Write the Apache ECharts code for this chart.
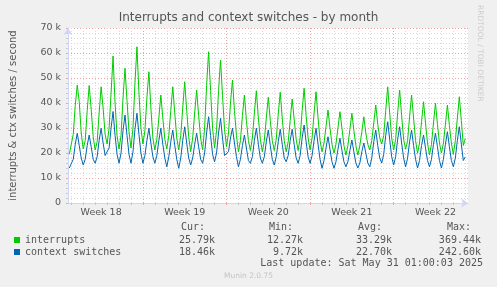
<!DOCTYPE html>
<html>
<head>
<meta charset="utf-8">
<script src="https://cdn.jsdelivr.net/npm/echarts@6/dist/echarts.min.js"></script>
<style>
html, body { margin: 0; padding: 0; background: #f0f0f0; }
#chart { width: 497px; height: 287px; }
</style>
</head>
<body>
<div id="chart"></div>
<script>
// hours counted from Monday 00:00 of week 18, one sample every 4 hours
const startHour = 20;
const stepHours = 4;
const xMin = 17.4;
const xMax = 821.4;

const weekStarts = [168, 336, 504, 672];
const weekMids = [84, 252, 420, 588, 756];
const weekLabels = ['Week 18', 'Week 19', 'Week 20', 'Week 21', 'Week 22'];

// values in thousands per second, one day per line (00h 04h 08h 12h 16h 20h)
const interrupts = [
    19.5,
    20.0, 27.5, 39.0, 47.2, 40.5, 28.0,
    21.6, 25.0, 37.0, 47.0, 37.5, 26.5,
    21.2, 24.5, 36.0, 46.5, 38.0, 27.5,
    23.6, 30.0, 44.0, 58.8, 40.0, 27.0,
    21.6, 27.0, 42.0, 53.9, 41.0, 28.5,
    22.0, 30.0, 48.0, 62.5, 44.0, 30.0,
    23.6, 29.0, 42.0, 52.5, 38.0, 26.0,
    21.2, 25.5, 34.0, 43.2, 34.0, 25.5,
    21.6, 27.0, 37.0, 46.5, 36.0, 26.0,
    21.2, 27.0, 38.0, 48.5, 37.0, 26.5,
    20.5, 26.0, 36.0, 45.2, 35.0, 26.0,
    21.2, 30.0, 47.0, 60.5, 45.0, 30.0,
    22.0, 29.0, 45.0, 57.2, 43.0, 29.5,
    22.5, 28.0, 40.0, 49.2, 37.0, 27.0,
    20.5, 25.0, 35.0, 43.2, 33.0, 25.0,
    21.0, 26.0, 36.0, 44.9, 34.0, 25.5,
    20.5, 25.0, 34.0, 42.3, 33.0, 25.0,
    21.0, 25.5, 35.5, 44.3, 34.0, 25.0,
    20.5, 24.5, 33.0, 41.6, 33.5, 25.5,
    21.0, 26.0, 37.0, 45.9, 35.0, 26.0,
    21.2, 26.0, 36.0, 44.5, 34.0, 25.0,
    20.5, 24.0, 30.5, 37.2, 30.0, 23.5,
    19.9, 23.5, 30.0, 36.5, 30.0, 23.0,
    19.2, 23.0, 29.5, 35.9, 29.0, 23.0,
    19.2, 23.0, 28.5, 34.5, 28.0, 23.5,
    21.2, 25.0, 32.0, 39.2, 31.5, 26.0,
    23.6, 27.0, 37.0, 46.5, 36.0, 26.0,
    21.2, 25.5, 36.0, 45.2, 35.0, 25.5,
    21.5, 25.0, 34.5, 43.2, 34.0, 25.0,
    19.9, 24.0, 32.5, 40.5, 32.0, 24.0,
    19.2, 23.5, 32.0, 39.9, 31.5, 24.0,
    20.0, 24.0, 31.5, 39.2, 31.0, 24.0,
    19.5, 25.0, 34.0, 42.5, 33.0, 23.0,
    25.8
];

const ctxSwitches = [
    14.0,
    14.0, 17.5, 23.5, 27.9, 23.0, 18.0,
    15.2, 17.5, 23.0, 27.2, 22.5, 17.5,
    15.9, 18.5, 25.0, 29.9, 24.0, 19.0,
    18.5, 22.0, 30.0, 36.6, 27.0, 19.5,
    15.9, 20.0, 29.0, 35.2, 27.0, 19.5,
    15.9, 20.5, 29.5, 35.9, 27.5, 20.0,
    15.9, 19.0, 25.0, 29.9, 24.0, 18.5,
    15.9, 19.0, 25.0, 29.9, 23.5, 18.0,
    14.5, 18.5, 24.5, 29.2, 23.0, 17.5,
    13.9, 18.0, 25.0, 30.5, 24.0, 18.0,
    15.2, 18.0, 23.5, 27.9, 22.5, 17.5,
    15.9, 20.0, 28.0, 34.5, 27.0, 19.5,
    16.5, 20.0, 28.0, 33.9, 26.0, 19.0,
    18.5, 20.5, 26.0, 29.9, 24.0, 18.5,
    14.5, 17.5, 23.0, 27.2, 22.0, 17.0,
    15.9, 18.5, 25.0, 29.9, 23.5, 18.0,
    15.9, 18.5, 24.5, 29.2, 23.0, 17.5,
    15.2, 18.5, 24.5, 29.5, 23.5, 18.0,
    16.5, 19.0, 25.0, 29.5, 23.5, 18.0,
    15.9, 19.0, 26.0, 31.2, 24.5, 18.5,
    15.9, 19.0, 25.0, 29.9, 23.5, 17.5,
    13.9, 17.0, 22.0, 26.5, 21.5, 16.5,
    13.9, 16.5, 21.5, 25.9, 21.0, 16.5,
    14.5, 16.5, 21.0, 25.2, 20.5, 16.0,
    14.0, 16.0, 20.5, 24.0, 20.0, 16.0,
    14.5, 18.0, 24.5, 29.2, 23.0, 18.0,
    16.0, 19.5, 27.0, 32.5, 25.5, 18.5,
    15.2, 18.5, 25.5, 30.5, 24.0, 18.0,
    14.5, 18.0, 24.5, 29.2, 23.0, 17.5,
    14.0, 17.0, 23.0, 27.2, 22.0, 17.0,
    14.5, 17.5, 23.5, 27.9, 22.5, 17.0,
    14.0, 17.5, 23.5, 28.5, 22.5, 17.0,
    14.5, 18.0, 25.0, 30.5, 23.5, 17.0,
    18.46
];

const seriesNames = ['interrupts', 'context switches'];
const seriesColors = ['#00cc00', '#0066b3'];
const curVals = ['25.79k', '18.46k'];
const minVals = ['12.27k', '9.72k'];
const avgVals = ['33.29k', '22.70k'];
const maxVals = ['369.44k', '242.60k'];
const lastUpdate = 'Last update: Sat May 31 01:00:03 2025';

const dayLines = [];
for (let h = 24; h < xMax; h += 24) dayLines.push(h);

function toPairs(values) {
    return values.map((v, i) => [startHour + i * stepHours, v]);
}

const chart = echarts.init(document.getElementById('chart'), null, { renderer: 'canvas' });

const fontColor = '#555';
const gridGrey = '#d9d9d9';
const gridRed = '#eba3a3';
const axisColor = '#cfd6f8';

const option = {
    backgroundColor: '#f0f0f0',
    animation: false,
    title: {
        text: 'Interrupts and context switches - by month',
        left: 'center',
        top: 12,
        padding: 0,
        textStyle: {
            fontFamily: 'DejaVu Sans',
            fontSize: 12,
            fontWeight: 'normal',
            color: fontColor
        }
    },
    grid: {
        left: 66,
        top: 28,
        width: 402,
        height: 175,
        show: true,
        backgroundColor: '#ffffff',
        borderWidth: 0
    },
    xAxis: [
        {
            type: 'value',
            min: xMin,
            max: xMax,
            axisLine: {
                show: true,
                lineStyle: { color: axisColor },
                symbol: ['none', 'arrow'],
                symbolSize: [7, 7]
            },
            axisTick: {
                show: true,
                length: 2,
                customValues: dayLines,
                lineStyle: { color: '#c8c8c8' }
            },
            axisLabel: {
                customValues: weekMids,
                formatter: (v) => weekLabels[weekMids.indexOf(v)],
                color: fontColor,
                fontFamily: 'DejaVu Sans',
                fontSize: 9.5,
                margin: 5
            },
            splitLine: {
                show: true,
                lineStyle: { color: gridGrey, type: [1, 2] }
            }
        },
        {
            type: 'value',
            min: xMin,
            max: xMax,
            position: 'bottom',
            axisLine: { show: false },
            axisTick: {
                show: true,
                length: 2,
                customValues: weekStarts,
                lineStyle: { color: gridRed }
            },
            axisLabel: { show: false },
            splitLine: {
                show: true,
                lineStyle: { color: gridRed, type: [1, 2] }
            }
        }
    ],
    yAxis: {
        type: 'value',
        min: 0,
        max: 70,
        interval: 10,
        name: 'interrupts & ctx switches / second',
        nameLocation: 'middle',
        nameRotate: 90,
        nameGap: 50,
        nameTextStyle: {
            fontFamily: 'DejaVu Sans',
            fontSize: 10,
            color: fontColor
        },
        axisLine: {
            show: true,
            lineStyle: { color: axisColor },
            symbol: ['none', 'arrow'],
            symbolSize: [7, 7]
        },
        axisTick: { show: true, length: 2, lineStyle: { color: gridRed } },
        minorTick: { show: true, splitNumber: 5, length: 2, lineStyle: { color: '#c8c8c8' } },
        axisLabel: {
            formatter: (v) => (v === 0 ? '0' : v + ' k'),
            color: fontColor,
            fontFamily: 'DejaVu Sans',
            fontSize: 9.5,
            margin: 7
        },
        splitLine: {
            show: true,
            lineStyle: { color: gridRed, type: [1, 2] }
        },
        minorSplitLine: {
            show: true,
            lineStyle: { color: gridGrey, type: [1, 2] }
        }
    },
    legend: {
        orient: 'vertical',
        left: 14,
        top: 234,
        padding: 0,
        itemWidth: 6,
        itemHeight: 6,
        itemGap: 0,
        icon: 'rect',
        selectedMode: false,
        data: seriesNames,
        formatter: (name) => {
            const i = seriesNames.indexOf(name);
            return '{n|' + name + '}{c|' + curVals[i] + '}{m|' + minVals[i] + '}{a|' + avgVals[i] + '}{x|' + maxVals[i] + '}';
        },
        textStyle: {
            fontFamily: 'DejaVu Sans Mono',
            fontSize: 10,
            lineHeight: 12,
            color: fontColor,
            rich: {
                n: { width: 154, fontFamily: 'DejaVu Sans Mono', fontSize: 10, color: fontColor },
                c: { width: 36, align: 'right', fontFamily: 'DejaVu Sans Mono', fontSize: 10, color: fontColor },
                m: { width: 88, align: 'right', fontFamily: 'DejaVu Sans Mono', fontSize: 10, color: fontColor },
                a: { width: 89, align: 'right', fontFamily: 'DejaVu Sans Mono', fontSize: 10, color: fontColor },
                x: { width: 89, align: 'right', fontFamily: 'DejaVu Sans Mono', fontSize: 10, color: fontColor }
            }
        }
    },
    graphic: [
        { type: 'text', left: 181, top: 222, style: { text: 'Cur:', font: '10px "DejaVu Sans Mono"', fill: fontColor } },
        { type: 'text', left: 269, top: 222, style: { text: 'Min:', font: '10px "DejaVu Sans Mono"', fill: fontColor } },
        { type: 'text', left: 358, top: 222, style: { text: 'Avg:', font: '10px "DejaVu Sans Mono"', fill: fontColor } },
        { type: 'text', left: 447, top: 222, style: { text: 'Max:', font: '10px "DejaVu Sans Mono"', fill: fontColor } },
        { type: 'text', right: 14, top: 258, style: { text: lastUpdate, font: '10px "DejaVu Sans Mono"', fill: fontColor } },
        { type: 'text', left: 'center', top: 272, style: { text: 'Munin 2.0.75', font: '7.5px "DejaVu Sans"', fill: '#c4c4c4' } },
        {
            type: 'text',
            x: 484,
            y: 5,
            rotation: -Math.PI / 2,
            style: { text: 'RRDTOOL / TOBI OETIKER', font: '7.5px "DejaVu Sans"', fill: '#cccccc' }
        }
    ],
    series: [
        {
            name: seriesNames[0],
            type: 'line',
            data: toPairs(interrupts),
            symbol: 'none',
            silent: true,
            color: seriesColors[0],
            lineStyle: { color: seriesColors[0], width: 1 },
            itemStyle: { color: seriesColors[0] }
        },
        {
            name: seriesNames[1],
            type: 'line',
            data: toPairs(ctxSwitches),
            symbol: 'none',
            silent: true,
            color: seriesColors[1],
            lineStyle: { color: seriesColors[1], width: 1 },
            itemStyle: { color: seriesColors[1] }
        }
    ]
};

chart.setOption(option);
</script>
</body>
</html>
